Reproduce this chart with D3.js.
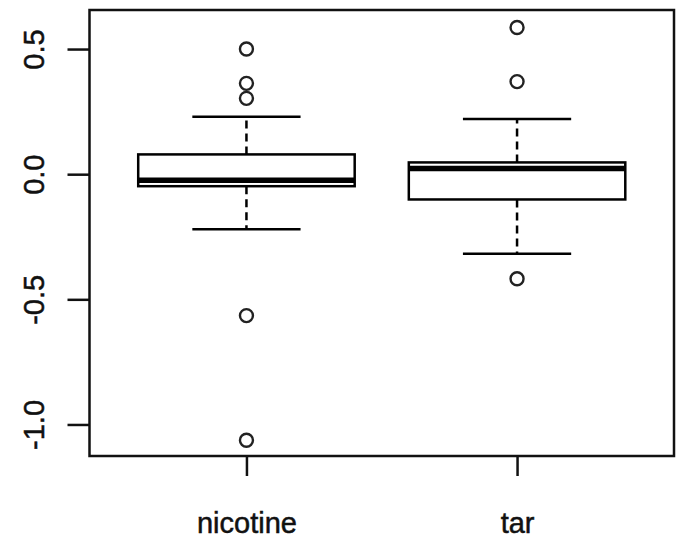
<!DOCTYPE html>
<html>
<head>
<meta charset="utf-8">
<script src="https://cdn.jsdelivr.net/npm/d3@7"></script>
<style>
  html, body { margin: 0; padding: 0; background: #fff; }
  svg { display: block; }
  text { font-family: "Liberation Sans", Arial, Helvetica, sans-serif; fill: #111; }
</style>
</head>
<body>
<svg id="chart" width="676" height="538"></svg>
<script>
// ---- data ----
const categories   = ["nicotine", "tar"];
const whiskerLow   = [-0.220, -0.318];
const q1           = [-0.048, -0.101];
const medians      = [-0.024,  0.023];
const q3           = [ 0.079,  0.047];
const whiskerHigh  = [ 0.229,  0.220];
const outliers     = [
  [0.500, 0.363, 0.303, -0.565, -1.063],
  [0.586, 0.370, -0.418]
];
const yTicks = [-1.0, -0.5, 0.0, 0.5];
const yDomain = [-1.126, 0.656];

// ---- layout ----
const plot = { left: 89.5, right: 674, top: 10, bottom: 456 };
const svg = d3.select("#chart");

const x = d3.scaleLinear().domain([0.42, categories.length + 0.58]).range([plot.left, plot.right]);
const y = d3.scaleLinear().domain(yDomain).range([plot.bottom, plot.top]);
const boxHalf = 0.4, capHalf = 0.2;

const boxes = categories.map((c, i) => ({
  name: c, pos: i + 1,
  lo: whiskerLow[i], q1: q1[i], med: medians[i], q3: q3[i], hi: whiskerHigh[i],
  out: outliers[i]
}));

const g = svg.append("g");
const LW = 2.5;

// whiskers (dashed)
g.selectAll(".whisk-up").data(boxes).join("line")
  .attr("x1", d => x(d.pos)).attr("x2", d => x(d.pos))
  .attr("y1", d => y(d.q3)).attr("y2", d => y(d.hi))
  .attr("stroke", "#000").attr("stroke-width", LW).attr("stroke-dasharray", "8,5");
g.selectAll(".whisk-dn").data(boxes).join("line")
  .attr("x1", d => x(d.pos)).attr("x2", d => x(d.pos))
  .attr("y1", d => y(d.q1)).attr("y2", d => y(d.lo))
  .attr("stroke", "#000").attr("stroke-width", LW).attr("stroke-dasharray", "8,5");

// staples
["hi", "lo"].forEach(k => {
  g.selectAll(".cap-" + k).data(boxes).join("line")
    .attr("x1", d => x(d.pos - capHalf)).attr("x2", d => x(d.pos + capHalf))
    .attr("y1", d => y(d[k])).attr("y2", d => y(d[k]))
    .attr("stroke", "#000").attr("stroke-width", LW);
});

// boxes
g.selectAll(".box").data(boxes).join("rect")
  .attr("x", d => x(d.pos - boxHalf))
  .attr("width", d => x(d.pos + boxHalf) - x(d.pos - boxHalf))
  .attr("y", d => y(d.q3))
  .attr("height", d => y(d.q1) - y(d.q3))
  .attr("fill", "#fff").attr("stroke", "#000").attr("stroke-width", LW);

// medians
g.selectAll(".med").data(boxes).join("line")
  .attr("x1", d => x(d.pos - boxHalf)).attr("x2", d => x(d.pos + boxHalf))
  .attr("y1", d => y(d.med)).attr("y2", d => y(d.med))
  .attr("stroke", "#000").attr("stroke-width", 5.5);

// outliers
const outPts = boxes.flatMap(d => d.out.map(v => ({ pos: d.pos, v })));
g.selectAll(".out").data(outPts).join("circle")
  .attr("cx", d => x(d.pos)).attr("cy", d => y(d.v)).attr("r", 6.5)
  .attr("fill", "none").attr("stroke", "#222").attr("stroke-width", 2.4);

// plot frame
svg.append("rect")
  .attr("x", plot.left).attr("y", plot.top)
  .attr("width", plot.right - plot.left).attr("height", plot.bottom - plot.top)
  .attr("fill", "none").attr("stroke", "#111").attr("stroke-width", LW);

// y axis
const yAxis = svg.append("g")
  .attr("transform", `translate(${plot.left},0)`)
  .call(d3.axisLeft(y).tickValues(yTicks).tickSize(22).tickFormat(d => d.toFixed(1)));
yAxis.select(".domain").remove();
yAxis.selectAll(".tick line").attr("stroke", "#111").attr("stroke-width", LW);
yAxis.selectAll(".tick text")
  .attr("transform", "rotate(-90)")
  .attr("x", 0).attr("y", -45.5).attr("dy", 0)
  .attr("text-anchor", "middle")
  .style("font-size", "29px").style("fill", "#111")
  .style("stroke", "#111").style("stroke-width", 0.5);

// x axis
const xAxis = svg.append("g")
  .attr("transform", `translate(0,${plot.bottom})`)
  .call(d3.axisBottom(x).tickValues(boxes.map(d => d.pos)).tickSize(20)
    .tickFormat((d, i) => categories[i]));
xAxis.select(".domain").remove();
xAxis.selectAll(".tick line").attr("stroke", "#111").attr("stroke-width", LW);
xAxis.selectAll(".tick text")
  .attr("y", 77).attr("dy", 0)
  .style("font-size", "29px").style("fill", "#111")
  .style("stroke", "#111").style("stroke-width", 0.5);
</script>
</body>
</html>
